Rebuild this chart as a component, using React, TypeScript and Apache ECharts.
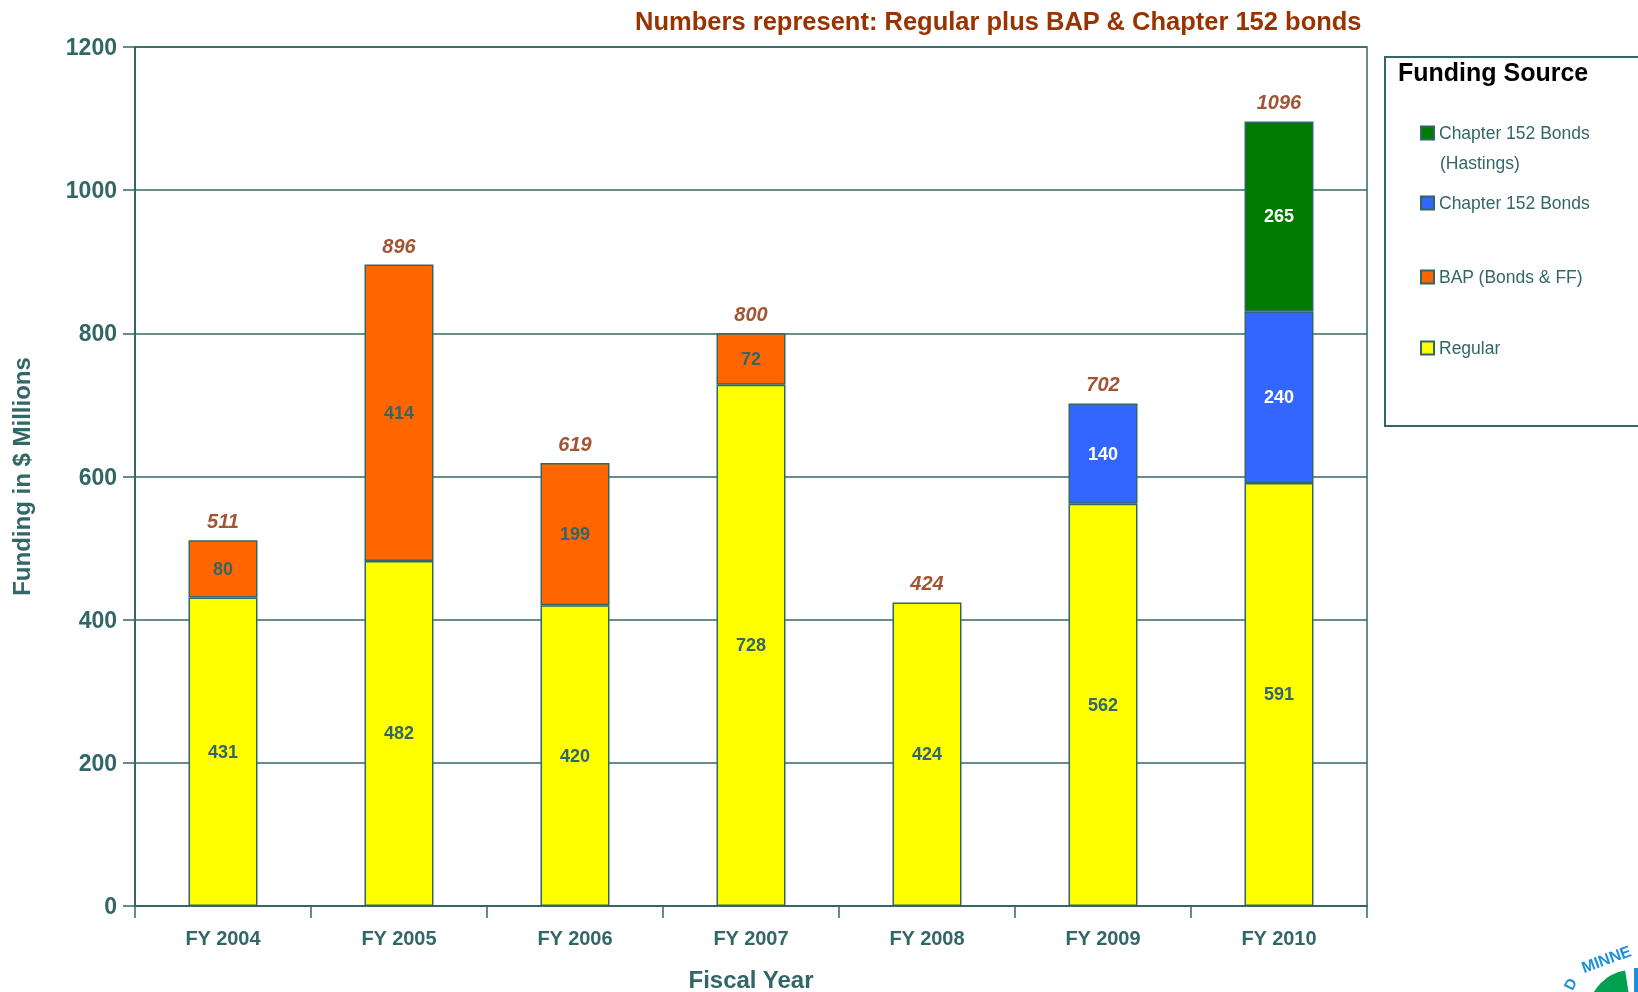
import React, { useEffect, useRef } from "react";
import * as echarts from "echarts";

const categories = ["FY 2004", "FY 2005", "FY 2006", "FY 2007", "FY 2008", "FY 2009", "FY 2010"];
const regular = [431, 482, 420, 728, 424, 562, 591];
const bap = [80, 414, 199, 72, null, null, null];
const ch152 = [null, null, null, null, null, 140, 240];
const hastings = [null, null, null, null, null, null, 265];
const totals = [511, 896, 619, 800, 424, 702, 1096];
const yTicks = { min: 0, max: 1200, interval: 200 };

const TEAL = "#336666";
const BROWN = "#993300";
const FONT = "'Liberation Sans', Arial, sans-serif";
const NARROW = "'Liberation Sans Narrow', 'Liberation Sans', Arial, sans-serif";

const S_HAST = "Chapter 152 Bonds (Hastings)";
const S_CH = "Chapter 152 Bonds";
const S_BAP = "BAP (Bonds & FF)";
const S_REG = "Regular";

function legendAt(name: string, top: number) {
  return {
    data: [name],
    left: 1420,
    top,
    padding: 0,
    itemWidth: 13,
    itemHeight: 13,
    icon: "rect",
    selectedMode: false,
    formatter: (n: string) => (n === S_HAST ? "Chapter 152 Bonds" : n),
    textStyle: { color: TEAL, fontSize: 17.5, fontFamily: NARROW },
  };
}

export default function App() {
  const ref = useRef<HTMLDivElement>(null);
  useEffect(() => {
    if (!ref.current) return;
    const chart = echarts.init(ref.current, undefined, { renderer: "svg" });
    const barBase = {
      type: "bar",
      stack: "total",
      barWidth: 69,
      itemStyle: { borderColor: TEAL, borderWidth: 1.5 },
    };
    const inLabel = (color: string) => ({
      show: true,
      position: "inside",
      color,
      fontSize: 18,
      fontWeight: "bold",
      fontFamily: FONT,
    });
    chart.setOption({
      animation: false,
      textStyle: { fontFamily: FONT },
      title: [
        {
          text: "Numbers represent: Regular plus BAP & Chapter 152 bonds",
          right: 276,
          top: 8,
          padding: 0,
          textStyle: { color: BROWN, fontSize: 25.5, fontWeight: "bold", fontFamily: FONT },
        },
        {
          text: "Funding Source",
          left: 1398,
          top: 59,
          padding: 0,
          textStyle: { color: "#000000", fontSize: 25, fontWeight: "bold", fontFamily: FONT },
        },
      ],
      legend: [
        legendAt(S_HAST, 124),
        legendAt(S_CH, 194),
        legendAt(S_BAP, 268),
        legendAt(S_REG, 339),
      ],
      grid: {
        left: 135,
        right: 271,
        top: 47,
        bottom: 86,
        outerBoundsMode: "none",
        containLabel: false,
        show: true,
        borderColor: TEAL,
        borderWidth: 1.5,
      },
      xAxis: {
        type: "category",
        data: categories,
        name: "Fiscal Year",
        nameLocation: "middle",
        nameGap: 61,
        nameTextStyle: { color: TEAL, fontSize: 24, fontWeight: "bold", fontFamily: FONT },
        axisLine: { lineStyle: { color: TEAL, width: 2 } },
        axisTick: { show: true, length: 12, interval: 0, lineStyle: { color: TEAL, width: 1.5 } },
        axisLabel: { color: TEAL, fontSize: 20, fontWeight: "bold", margin: 22, interval: 0 },
      },
      yAxis: {
        type: "value",
        min: yTicks.min,
        max: yTicks.max,
        interval: yTicks.interval,
        name: "Funding in $ Millions",
        nameLocation: "middle",
        nameGap: 102,
        nameTextStyle: { color: TEAL, fontSize: 24, fontWeight: "bold", fontFamily: FONT },
        axisLine: { show: true, lineStyle: { color: TEAL, width: 2 } },
        axisTick: { show: true, length: 12, lineStyle: { color: TEAL, width: 1.5 } },
        axisLabel: {
          color: TEAL,
          fontSize: 23,
          fontWeight: "bold",
          margin: 18,
          formatter: (v: number) => String(v),
        },
        splitLine: { show: true, lineStyle: { color: TEAL, width: 1.5 } },
      },
      series: [
        { ...barBase, name: S_REG, data: regular, itemStyle: { ...barBase.itemStyle, color: "#FFFF00" }, label: inLabel(TEAL) },
        { ...barBase, name: S_BAP, data: bap, itemStyle: { ...barBase.itemStyle, color: "#FF6600" }, label: inLabel(TEAL) },
        { ...barBase, name: S_CH, data: ch152, itemStyle: { ...barBase.itemStyle, color: "#3366FF" }, label: inLabel("#FFFFFF") },
        { ...barBase, name: S_HAST, data: hastings, itemStyle: { ...barBase.itemStyle, color: "#007A00" }, label: inLabel("#FFFFFF") },
        {
          type: "scatter",
          name: "Total",
          data: totals,
          symbolSize: 0,
          silent: true,
          label: {
            show: true,
            position: "top",
            distance: 9,
            color: "#8A2A00",
            fontSize: 20,
            fontWeight: "bold",
            fontStyle: "italic",
            fontFamily: FONT,
          },
        },
      ],
      graphic: [
        {
          type: "rect",
          shape: { x: 1385, y: 57, width: 300, height: 369 },
          style: { fill: "none", stroke: TEAL, lineWidth: 2 },
          silent: true,
        },
        {
          type: "text",
          x: 1440,
          y: 163,
          style: { text: "(Hastings)", fill: TEAL, fontSize: 17.5, fontFamily: NARROW, verticalAlign: "middle" },
          silent: true,
        },
        {
          type: "sector",
          shape: { cx: 1632, cy: 1014, r0: 0, r: 44, startAngle: Math.PI * 1.05, endAngle: Math.PI * 1.45 },
          style: { fill: "#00A050" },
          silent: true,
        },
        {
          type: "rect",
          shape: { x: 1634, y: 968, width: 4, height: 24 },
          style: { fill: "#1E90D8" },
          silent: true,
        },
        {
          type: "text",
          x: 1582,
          y: 968,
          rotation: 0.35,
          style: { text: "MINNE", fill: "#1E90D8", fontSize: 16, fontWeight: "bold", fontFamily: FONT, verticalAlign: "middle" },
          silent: true,
        },
        {
          type: "text",
          x: 1570,
          y: 984,
          rotation: 1.1,
          style: { text: "D", fill: "#1E90D8", fontSize: 15, fontWeight: "bold", fontFamily: FONT, align: "center", verticalAlign: "middle" },
          silent: true,
        },
      ],
    });
    return () => chart.dispose();
  }, []);
  return (
    <div
      ref={ref}
      style={{ position: "fixed", left: 0, top: 0, width: 1638, height: 992 }}
    />
  );
}
